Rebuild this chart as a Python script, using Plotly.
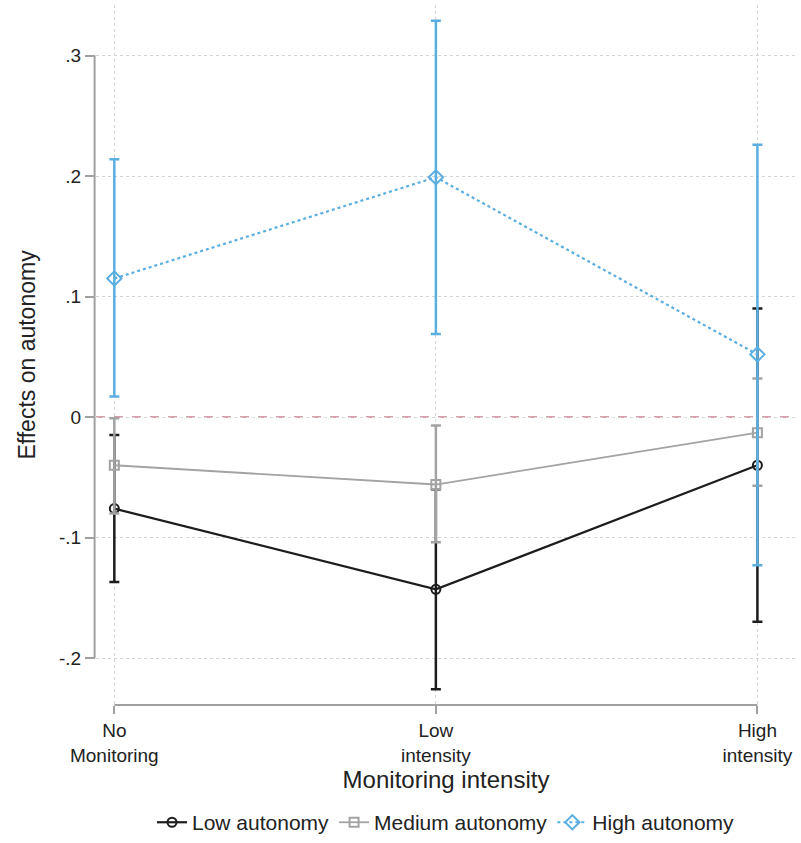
import plotly.graph_objects as go

categories = ["No<br>Monitoring", "Low<br>intensity", "High<br>intensity"]
series_names = ["Low autonomy", "Medium autonomy", "High autonomy"]

low_est = [-0.076, -0.143, -0.040]
low_lo = [-0.137, -0.226, -0.170]
low_hi = [-0.015, -0.060, 0.090]

med_est = [-0.040, -0.056, -0.013]
med_lo = [-0.080, -0.104, -0.057]
med_hi = [-0.001, -0.007, 0.032]

high_est = [0.115, 0.199, 0.052]
high_lo = [0.017, 0.069, -0.123]
high_hi = [0.214, 0.329, 0.226]

y_ticks = [0.3, 0.2, 0.1, 0.0, -0.1, -0.2]
y_ticktext = [".3", ".2", ".1", "0", "-.1", "-.2"]

xs = list(range(len(categories)))

styles = [
    dict(color="#1c1c1c", symbol="circle-open", dash="solid", lw=2.2, size=9),
    dict(color="#a3a3a3", symbol="square-open", dash="solid", lw=1.8, size=9),
    dict(color="#5aaee0", symbol="diamond-open", dash="dot", lw=2.2, size=11),
]

fig = go.Figure()
for name, est, lo, hi, st in zip(series_names,
                                 [low_est, med_est, high_est],
                                 [low_lo, med_lo, high_lo],
                                 [low_hi, med_hi, high_hi],
                                 styles):
    fig.add_trace(go.Scatter(
        x=xs, y=est, name=name, mode="lines+markers",
        line=dict(color=st["color"], width=st["lw"], dash=st["dash"]),
        marker=dict(symbol=st["symbol"], size=st["size"], color=st["color"],
                    line=dict(width=2, color=st["color"])),
        error_y=dict(type="data", symmetric=False,
                     array=[h - e for h, e in zip(hi, est)],
                     arrayminus=[e - l for e, l in zip(est, lo)],
                     color=st["color"], thickness=2.5, width=5),
    ))

# zero reference line
fig.add_shape(type="line", xref="paper", x0=0, x1=1, yref="y", y0=0, y1=0,
              line=dict(color="#cc8090", width=1.5, dash="dash"), layer="below")
# Stata-style axis lines spanning the tick range
fig.add_shape(type="line", xref="paper", x0=-0.002, x1=-0.002, yref="y",
              y0=min(y_ticks), y1=max(y_ticks),
              line=dict(color="#a0a0a0", width=2))
fig.add_shape(type="line", xref="x", x0=xs[0], x1=xs[-1], yref="paper",
              y0=0, y1=0, line=dict(color="#a0a0a0", width=2))

font_fam = "Liberation Sans, Arial, sans-serif"
fig.update_layout(
    width=801, height=843,
    margin=dict(l=96, r=5, t=5, b=138, autoexpand=False),
    paper_bgcolor="white", plot_bgcolor="white",
    font=dict(family=font_fam, color="#222222"),
    showlegend=True,
    legend=dict(orientation="h", x=0.5, xanchor="center", y=-0.168,
                yanchor="middle", font=dict(size=21), itemwidth=30,
                tracegroupgap=0),
    xaxis=dict(range=[-0.057, 2.12], tickvals=xs, ticktext=categories,
               showgrid=True, gridcolor="#d4d4d4", griddash="dot", gridwidth=1,
               zeroline=False, showline=False, ticks="outside", ticklen=8,
               tickcolor="#a0a0a0", tickwidth=1.5,
               tickfont=dict(size=19),
               title=dict(text="Monitoring intensity", font=dict(size=24),
                          standoff=6)),
    yaxis=dict(range=[-0.239, 0.342], tickvals=y_ticks, ticktext=y_ticktext,
               showgrid=True, gridcolor="#d4d4d4", griddash="dot", gridwidth=1,
               zeroline=False, showline=False, ticks="outside", ticklen=10,
               tickcolor="#a0a0a0", tickwidth=1.5,
               tickfont=dict(size=19),
               title=dict(text="Effects on autonomy", font=dict(size=23),
                          standoff=16)),
)

fig.write_html("out.html")
